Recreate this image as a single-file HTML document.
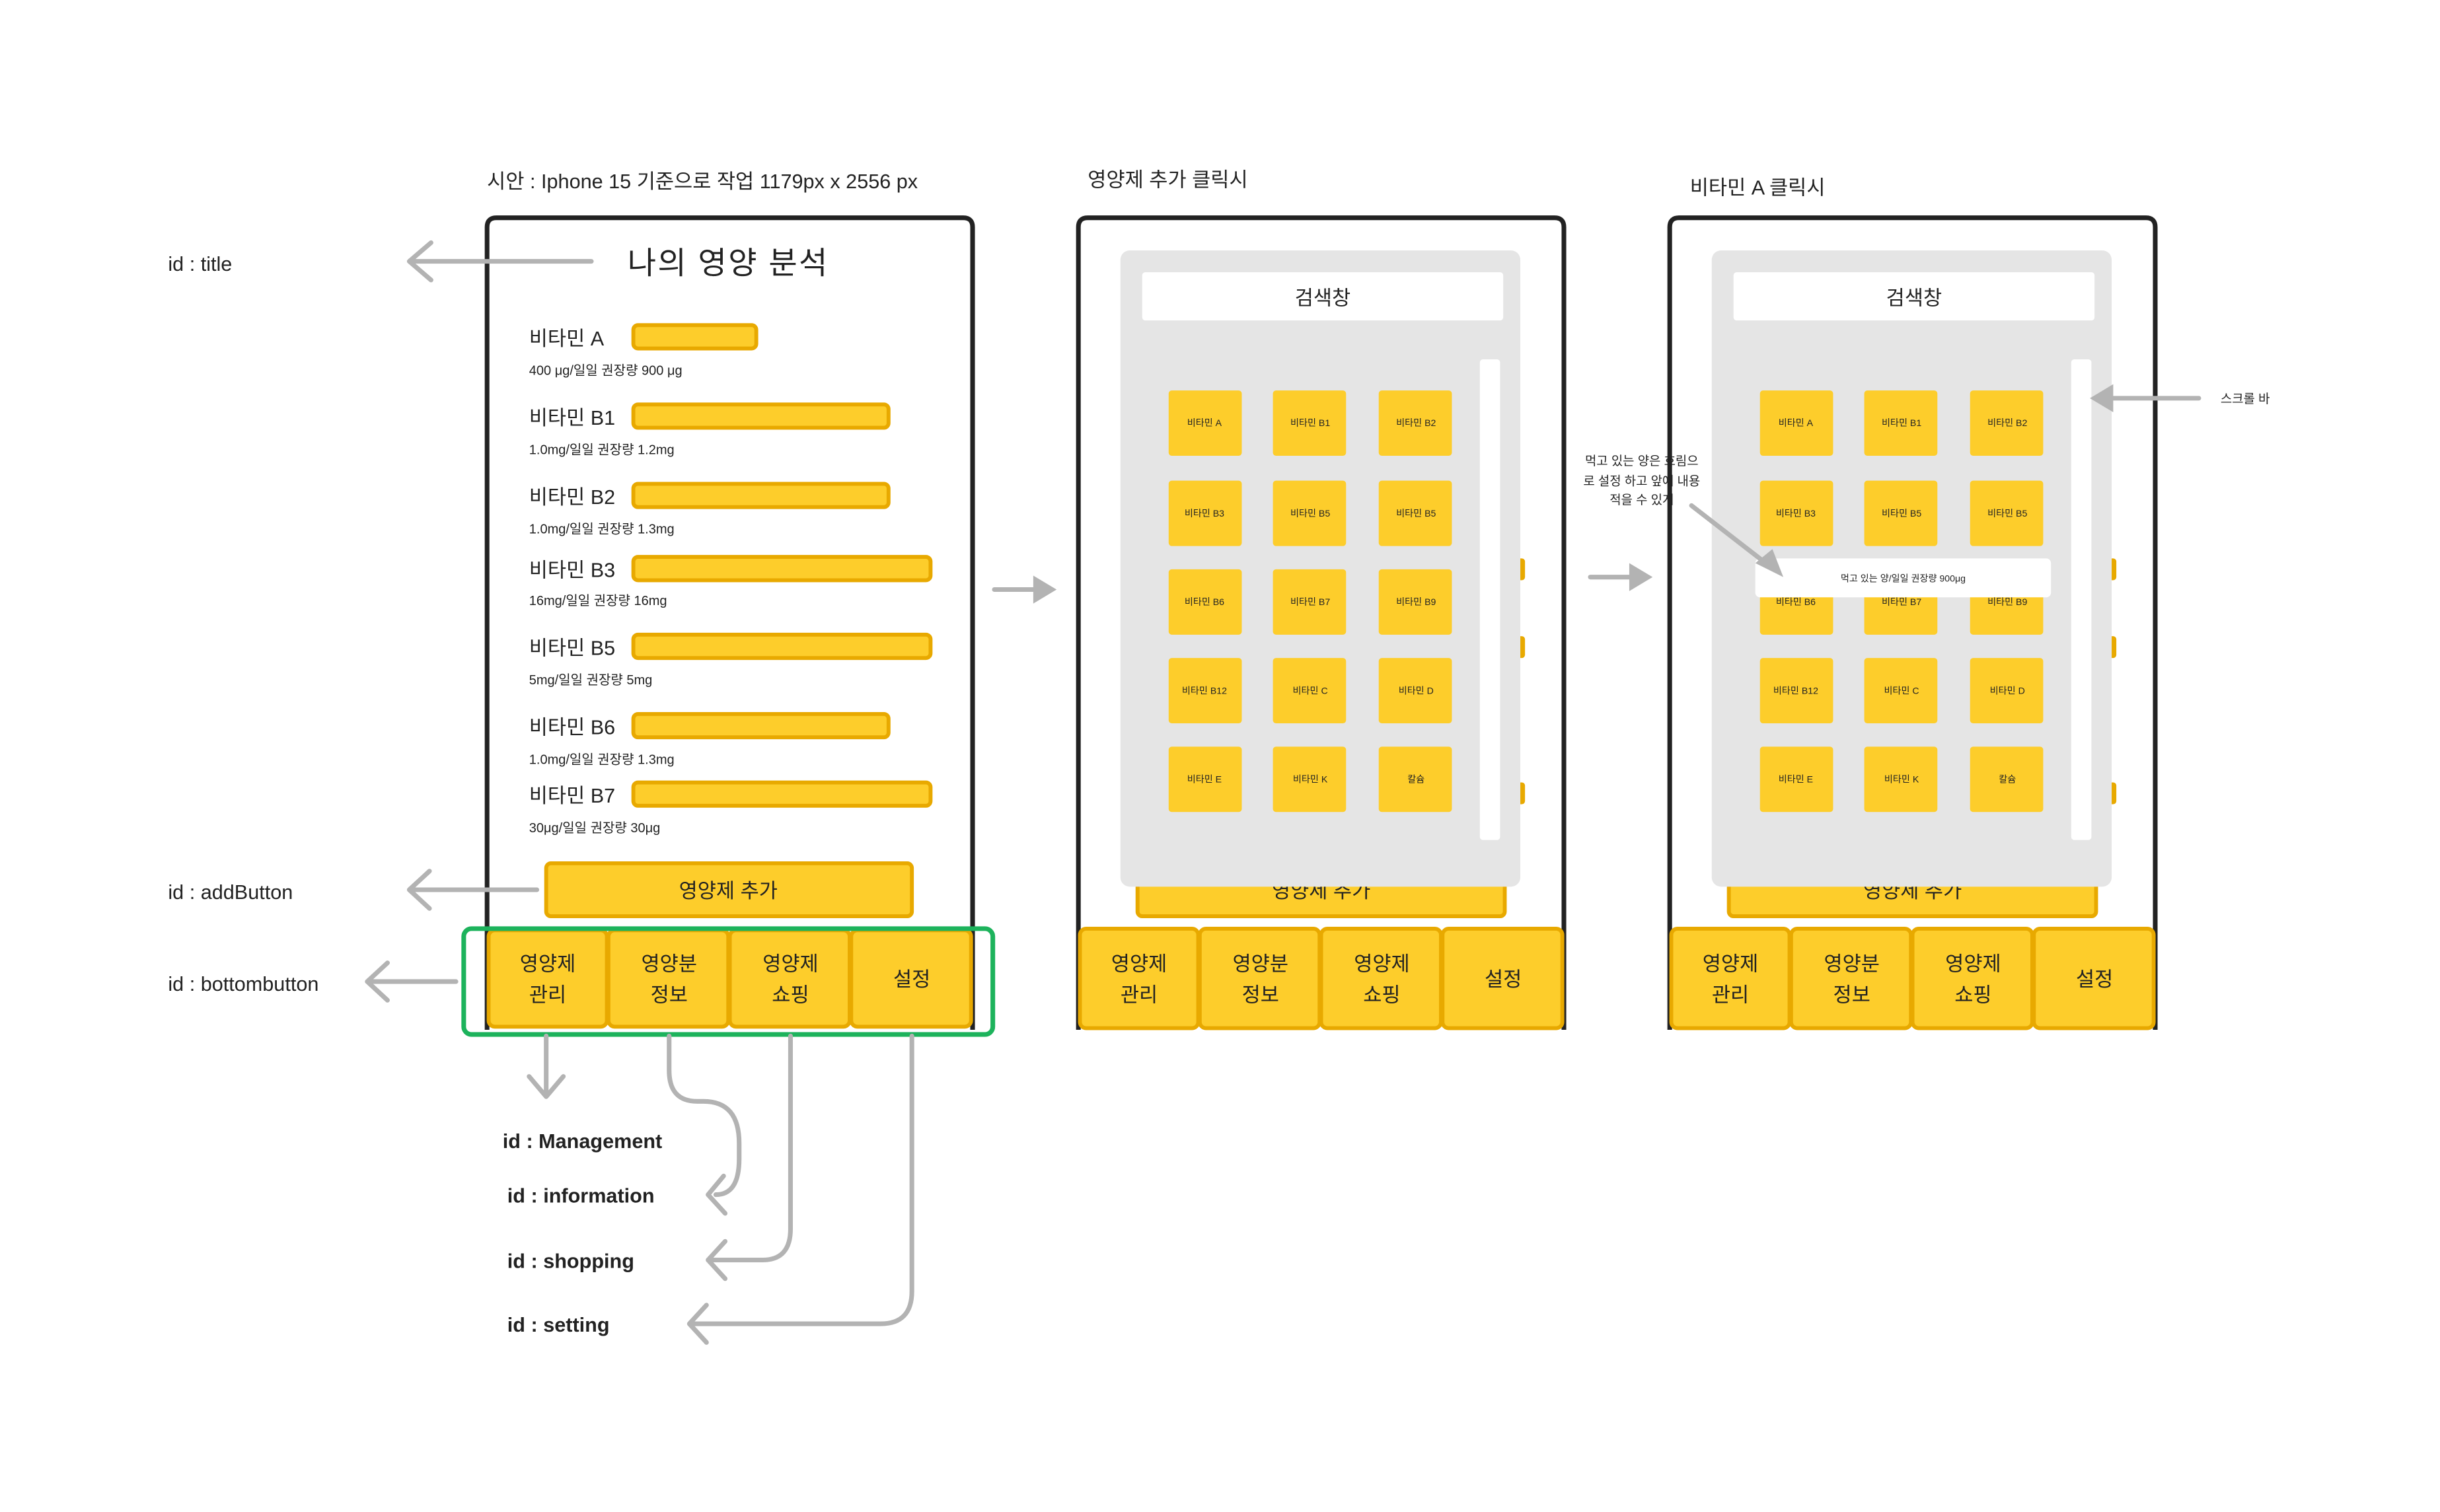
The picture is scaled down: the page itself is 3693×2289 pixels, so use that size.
<!DOCTYPE html>
<html><head><meta charset="utf-8"><style>
html,body{margin:0;padding:0;background:#fff;}
svg{display:block;}
text{font-family:"Liberation Sans","Noto Sans CJK KR",sans-serif;fill:#222;}
.y{fill:#FDCD2B;stroke:#E8A900;stroke-width:2.5;}
.f{fill:none;stroke:#222;stroke-width:3;}
.a{fill:none;stroke:#B3B3B3;stroke-width:3;stroke-linecap:round;stroke-linejoin:round;}
.ah{fill:#B3B3B3;}
.t{fill:#FDCD2B;}
.tl{font-size:6px;text-anchor:middle;}
.bt{font-size:13px;text-anchor:middle;}
</style></head><body>
<svg width="3693" height="2289" viewBox="0 0 1568 972" preserveAspectRatio="none" xmlns="http://www.w3.org/2000/svg">
<rect width="1568" height="972" fill="#fff"/>

<!-- headers -->
<text x="313" y="121" font-size="13">시안 : Iphone 15 기준으로 작업 1179px x 2556 px</text>
<text x="699" y="120" font-size="13">영양제 추가 클릭시</text>
<text x="1086" y="125" font-size="13">비타민 A 클릭시</text>

<!-- left labels -->
<text x="108" y="174" font-size="13">id : title</text>
<text x="108" y="578" font-size="13">id : addButton</text>
<text x="108" y="637" font-size="13">id : bottombutton</text>

<!-- PHONE 1 -->
<path class="f" d="M313,662 V146 Q313,140 319,140 H619 Q625,140 625,146 V662"/>
<text x="468" y="176" font-size="20" text-anchor="middle" letter-spacing="1">나의  영양  분석</text>
<path class="a" d="M380,168 H263 M277,156 L263,168 L277,180"/>

<g font-size="13">
<text x="340" y="222">비타민 A</text>
<text x="340" y="273">비타민 B1</text>
<text x="340" y="324">비타민 B2</text>
<text x="340" y="371">비타민 B3</text>
<text x="340" y="421">비타민 B5</text>
<text x="340" y="472">비타민 B6</text>
<text x="340" y="516">비타민 B7</text>
</g>
<g font-size="8.5">
<text x="340" y="241">400 μg/일일 권장량 900 μg</text>
<text x="340" y="292">1.0mg/일일 권장량 1.2mg</text>
<text x="340" y="343">1.0mg/일일 권장량 1.3mg</text>
<text x="340" y="389">16mg/일일 권장량 16mg</text>
<text x="340" y="440">5mg/일일 권장량 5mg</text>
<text x="340" y="491">1.0mg/일일 권장량 1.3mg</text>
<text x="340" y="535">30μg/일일 권장량 30μg</text>
</g>
<rect class="y" x="407" y="209" width="79" height="15" rx="3"/>
<rect class="y" x="407" y="260" width="164" height="15" rx="3"/>
<rect class="y" x="407" y="311" width="164" height="15" rx="3"/>
<rect class="y" x="407" y="358" width="191" height="15" rx="3"/>
<rect class="y" x="407" y="408" width="191" height="15" rx="3"/>
<rect class="y" x="407" y="459" width="164" height="15" rx="3"/>
<rect class="y" x="407" y="503" width="191" height="15" rx="3"/>

<rect class="y" x="351" y="555" width="235" height="34" rx="3"/>
<text x="468" y="577" font-size="13" text-anchor="middle">영양제 추가</text>
<path class="a" d="M345,572 H263 M276,560 L263,572 L276,584"/>

<g>
<rect class="y" x="314" y="598" width="76" height="62" rx="4"/>
<rect class="y" x="391" y="598" width="77" height="62" rx="4"/>
<rect class="y" x="469" y="598" width="77" height="62" rx="4"/>
<rect class="y" x="547" y="598" width="77" height="62" rx="4"/>
<text class="bt" x="352" y="624">영양제</text><text class="bt" x="352" y="644">관리</text>
<text class="bt" x="430" y="624">영양분</text><text class="bt" x="430" y="644">정보</text>
<text class="bt" x="508" y="624">영양제</text><text class="bt" x="508" y="644">쇼핑</text>
<text class="bt" x="586" y="634">설정</text>
</g>
<rect x="298" y="597" width="340" height="68" rx="5" fill="none" stroke="#1DB35C" stroke-width="3"/>
<path class="a" d="M293,631 H236 M249,619 L236,631 L249,643"/>

<!-- connectors -->
<path class="a" d="M351,666 V703 M340,692 L351,705 L362,692"/>
<path class="a" d="M430,666 V688 Q430,708 448,708 H452 Q475,708 475,735 V745 Q475,768 460,768 M465,756 L455,768 L466,780"/>
<path class="a" d="M508,666 V790 Q508,810 490,810 H455 M466,798 L455,810 L466,822"/>
<path class="a" d="M586,666 V830 Q586,851 566,851 H443 M454,839 L443,851 L454,863"/>
<g font-size="13" font-weight="bold">
<text x="323" y="738">id : Management</text>
<text x="326" y="773">id : information</text>
<text x="326" y="815">id : shopping</text>
<text x="326" y="856">id : setting</text>
</g>

<!-- arrows between phones -->
<path class="a" d="M639,379 H665"/><path class="ah" d="M664,370 L679,379 L664,388 Z"/>
<path class="a" d="M1022,371 H1048"/><path class="ah" d="M1047,362 L1062,371 L1047,380 Z"/>

<!-- PHONE 2 -->
<g>
<path class="f" d="M693,662 V146 Q693,140 699,140 H999 Q1005,140 1005,146 V662"/>
<rect x="975" y="359" width="5" height="14" rx="2" fill="#E8A900"/>
<rect x="975" y="409" width="5" height="14" rx="2" fill="#E8A900"/>
<rect x="975" y="503" width="5" height="14" rx="2" fill="#E8A900"/>
<rect class="y" x="731" y="555" width="236" height="34" rx="3"/>
<text x="849" y="577" font-size="13" text-anchor="middle">영양제 추가</text>
<rect x="720" y="161" width="257" height="409" rx="6" fill="#E5E5E5"/>
<rect x="734" y="175" width="232" height="31" rx="2" fill="#fff"/>
<text x="850" y="196" font-size="13" text-anchor="middle">검색창</text>
<rect x="951" y="231" width="13" height="309" rx="2" fill="#fff"/>
<g>
<rect class="t" x="751" y="251" width="47" height="42" rx="2"/><rect class="t" x="818" y="251" width="47" height="42" rx="2"/><rect class="t" x="886" y="251" width="47" height="42" rx="2"/>
<rect class="t" x="751" y="309" width="47" height="42" rx="2"/><rect class="t" x="818" y="309" width="47" height="42" rx="2"/><rect class="t" x="886" y="309" width="47" height="42" rx="2"/>
<rect class="t" x="751" y="366" width="47" height="42" rx="2"/><rect class="t" x="818" y="366" width="47" height="42" rx="2"/><rect class="t" x="886" y="366" width="47" height="42" rx="2"/>
<rect class="t" x="751" y="423" width="47" height="42" rx="2"/><rect class="t" x="818" y="423" width="47" height="42" rx="2"/><rect class="t" x="886" y="423" width="47" height="42" rx="2"/>
<rect class="t" x="751" y="480" width="47" height="42" rx="2"/><rect class="t" x="818" y="480" width="47" height="42" rx="2"/><rect class="t" x="886" y="480" width="47" height="42" rx="2"/>
<text class="tl" x="774" y="274">비타민 A</text><text class="tl" x="842" y="274">비타민 B1</text><text class="tl" x="910" y="274">비타민 B2</text>
<text class="tl" x="774" y="332">비타민 B3</text><text class="tl" x="842" y="332">비타민 B5</text><text class="tl" x="910" y="332">비타민 B5</text>
<text class="tl" x="774" y="389">비타민 B6</text><text class="tl" x="842" y="389">비타민 B7</text><text class="tl" x="910" y="389">비타민 B9</text>
<text class="tl" x="774" y="446">비타민 B12</text><text class="tl" x="842" y="446">비타민 C</text><text class="tl" x="910" y="446">비타민 D</text>
<text class="tl" x="774" y="503">비타민 E</text><text class="tl" x="842" y="503">비타민 K</text><text class="tl" x="910" y="503">칼슘</text>
</g>
<rect class="y" x="694" y="597" width="76" height="64" rx="4"/>
<rect class="y" x="771" y="597" width="77" height="64" rx="4"/>
<rect class="y" x="849" y="597" width="77" height="64" rx="4"/>
<rect class="y" x="927" y="597" width="77" height="64" rx="4"/>
<text class="bt" x="732" y="624">영양제</text><text class="bt" x="732" y="644">관리</text>
<text class="bt" x="810" y="624">영양분</text><text class="bt" x="810" y="644">정보</text>
<text class="bt" x="888" y="624">영양제</text><text class="bt" x="888" y="644">쇼핑</text>
<text class="bt" x="966" y="634">설정</text>
</g>

<!-- PHONE 3 -->
<g>
<path class="f" d="M1073,662 V146 Q1073,140 1079,140 H1379 Q1385,140 1385,146 V662"/>
<rect x="1355" y="359" width="5" height="14" rx="2" fill="#E8A900"/>
<rect x="1355" y="409" width="5" height="14" rx="2" fill="#E8A900"/>
<rect x="1355" y="503" width="5" height="14" rx="2" fill="#E8A900"/>
<rect class="y" x="1111" y="555" width="236" height="34" rx="3"/>
<text x="1229" y="577" font-size="13" text-anchor="middle">영양제 추가</text>
<rect x="1100" y="161" width="257" height="409" rx="6" fill="#E5E5E5"/>
<rect x="1114" y="175" width="232" height="31" rx="2" fill="#fff"/>
<text x="1230" y="196" font-size="13" text-anchor="middle">검색창</text>
<rect x="1331" y="231" width="13" height="309" rx="2" fill="#fff"/>
<g>
<rect class="t" x="1131" y="251" width="47" height="42" rx="2"/><rect class="t" x="1198" y="251" width="47" height="42" rx="2"/><rect class="t" x="1266" y="251" width="47" height="42" rx="2"/>
<rect class="t" x="1131" y="309" width="47" height="42" rx="2"/><rect class="t" x="1198" y="309" width="47" height="42" rx="2"/><rect class="t" x="1266" y="309" width="47" height="42" rx="2"/>
<rect class="t" x="1131" y="366" width="47" height="42" rx="2"/><rect class="t" x="1198" y="366" width="47" height="42" rx="2"/><rect class="t" x="1266" y="366" width="47" height="42" rx="2"/>
<rect class="t" x="1131" y="423" width="47" height="42" rx="2"/><rect class="t" x="1198" y="423" width="47" height="42" rx="2"/><rect class="t" x="1266" y="423" width="47" height="42" rx="2"/>
<rect class="t" x="1131" y="480" width="47" height="42" rx="2"/><rect class="t" x="1198" y="480" width="47" height="42" rx="2"/><rect class="t" x="1266" y="480" width="47" height="42" rx="2"/>
<text class="tl" x="1154" y="274">비타민 A</text><text class="tl" x="1222" y="274">비타민 B1</text><text class="tl" x="1290" y="274">비타민 B2</text>
<text class="tl" x="1154" y="332">비타민 B3</text><text class="tl" x="1222" y="332">비타민 B5</text><text class="tl" x="1290" y="332">비타민 B5</text>
<text class="tl" x="1154" y="389">비타민 B6</text><text class="tl" x="1222" y="389">비타민 B7</text><text class="tl" x="1290" y="389">비타민 B9</text>
<text class="tl" x="1154" y="446">비타민 B12</text><text class="tl" x="1222" y="446">비타민 C</text><text class="tl" x="1290" y="446">비타민 D</text>
<text class="tl" x="1154" y="503">비타민 E</text><text class="tl" x="1222" y="503">비타민 K</text><text class="tl" x="1290" y="503">칼슘</text>
</g>
<rect x="1128" y="359" width="190" height="25" rx="3" fill="#fff"/>
<text class="tl" x="1223" y="374">먹고 있는 양/일일 권장량 900μg</text>
<rect class="y" x="1074" y="597" width="76" height="64" rx="4"/>
<rect class="y" x="1151" y="597" width="77" height="64" rx="4"/>
<rect class="y" x="1229" y="597" width="77" height="64" rx="4"/>
<rect class="y" x="1307" y="597" width="77" height="64" rx="4"/>
<text class="bt" x="1112" y="624">영양제</text><text class="bt" x="1112" y="644">관리</text>
<text class="bt" x="1190" y="624">영양분</text><text class="bt" x="1190" y="644">정보</text>
<text class="bt" x="1268" y="624">영양제</text><text class="bt" x="1268" y="644">쇼핑</text>
<text class="bt" x="1346" y="634">설정</text>
</g>

<!-- annotations phone 3 -->
<g font-size="8" text-anchor="middle">
<text x="1055" y="299">먹고 있는 양은 흐림으</text>
<text x="1055" y="312">로 설정 하고 앞에 내용</text>
<text x="1055" y="324">적을 수 있게</text>
</g>
<path class="a" d="M1087,325 L1136,363"/><path class="ah" d="M1128,362 L1146,371 L1139,353 Z"/>
<text x="1427" y="259" font-size="8">스크롤 바</text>
<path class="a" d="M1413,256 H1355"/><path class="ah" d="M1358,247 L1343,256 L1358,265 Z"/>
</svg>
</body></html>
